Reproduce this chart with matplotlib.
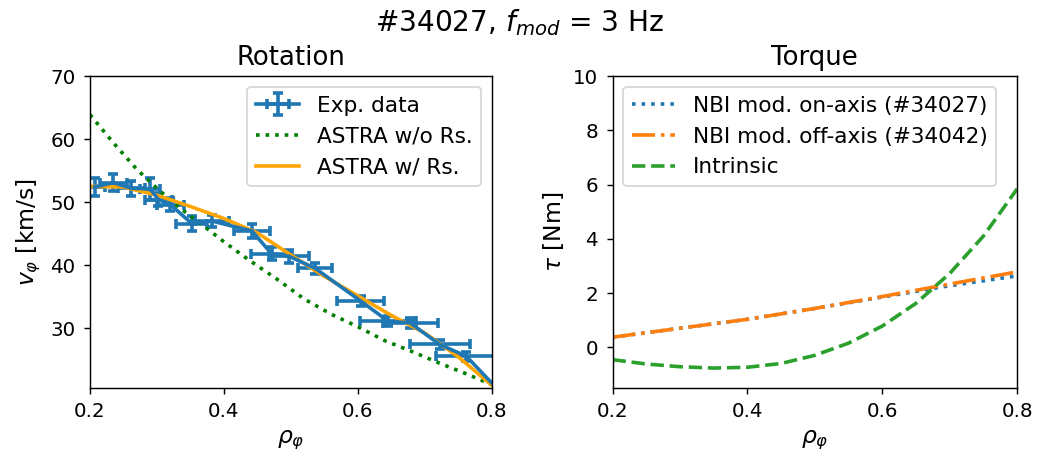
import matplotlib
matplotlib.use("Agg")
import matplotlib.pyplot as plt
import numpy as np

# 实验数据 (rho, v_phi, x误差, y误差)
exp_rho = [0.207, 0.235, 0.262, 0.290, 0.302, 0.320, 0.352, 0.382, 0.442,
           0.471, 0.497, 0.536, 0.604, 0.645, 0.678, 0.722, 0.762, 0.82]
exp_v = [52.4, 53.1, 52.2, 52.1, 50.4, 49.6, 46.6, 47.0, 45.4,
         41.8, 41.4, 39.5, 34.3, 31.1, 30.8, 27.4, 25.5, 19.0]
exp_xerr = [0.015, 0.02, 0.02, 0.015, 0.02, 0.02, 0.023, 0.025, 0.027,
            0.03, 0.03, 0.026, 0.035, 0.042, 0.041, 0.045, 0.045, 0.04]
exp_yerr = [1.5, 1.3, 1.2, 1.8, 1.0, 1.0, 1.2, 1.0, 1.1,
            1.0, 1.0, 0.9, 0.8, 0.8, 0.8, 0.7, 0.7, 0.7]

# ASTRA 模拟
astra_wo_rho = [0.2, 0.235, 0.27, 0.3, 0.33, 0.37, 0.40, 0.44, 0.48,
                0.52, 0.56, 0.60, 0.64, 0.68, 0.72, 0.76, 0.8]
astra_wo_v = [63.9, 59.4, 55.2, 52.2, 49.4, 46.2, 43.7, 40.6, 37.7,
              34.6, 32.2, 30.2, 28.0, 26.3, 24.5, 22.8, 21.0]
astra_w_rho = [0.2, 0.25, 0.3, 0.35, 0.4, 0.45, 0.5, 0.55, 0.6, 0.65, 0.7, 0.75, 0.8]
astra_w_v = [52.5, 52.4, 51.1, 49.3, 47.4, 45.1, 41.6, 38.2, 35.1, 32.0, 29.2, 25.4, 20.9]

# 力矩剖面
torque_rho = [0.2, 0.3, 0.4, 0.5, 0.6, 0.7, 0.8]
nbi_on = [0.37, 0.70, 1.03, 1.43, 1.85, 2.27, 2.63]
nbi_off = [0.37, 0.70, 1.03, 1.43, 1.87, 2.33, 2.78]
intr_rho = [0.2, 0.25, 0.3, 0.35, 0.4, 0.45, 0.5, 0.55, 0.6, 0.65, 0.7, 0.75, 0.8]
intr_tau = [-0.46, -0.62, -0.72, -0.77, -0.74, -0.60, -0.30, 0.15, 0.78, 1.62, 2.72, 4.1, 5.84]

plt.rcParams['font.size'] = 12
plt.rcParams['axes.labelsize'] = 13
plt.rcParams['xtick.labelsize'] = 11
plt.rcParams['ytick.labelsize'] = 11
plt.rcParams['xtick.major.pad'] = 4.5
plt.rcParams['ytick.major.pad'] = 4.5

fig = plt.figure(figsize=(8, 459 / 130), dpi=130)
ax1 = fig.add_axes([0.0865, 0.155, 0.3865, 0.679])
ax2 = fig.add_axes([0.589, 0.155, 0.389, 0.679])

fig.suptitle(r"#34027, $f_{mod}$ = 3 Hz", fontsize=15.5, y=0.985)

# 左图：旋转
eb = ax1.errorbar(exp_rho, exp_v, xerr=exp_xerr, yerr=exp_yerr, fmt='-', color='C0',
                  lw=2, elinewidth=2, capsize=3, capthick=2, label="Exp. data")
l1, = ax1.plot(astra_wo_rho, astra_wo_v, ':', color='g', lw=2, label="ASTRA w/o Rs.")
l2, = ax1.plot(astra_w_rho, astra_w_v, '-', color='orange', lw=2, label="ASTRA w/ Rs.")
ax1.set_xlim(0.2, 0.8)
ax1.set_ylim(20.5, 70)
ax1.set_xticks([0.2, 0.4, 0.6, 0.8])
ax1.set_yticks([30, 40, 50, 60, 70])
ax1.set_title("Rotation")
ax1.set_xlabel(r"$\rho_\varphi$")
ax1.set_ylabel(r"$v_\varphi$ [km/s]")
ax1.legend([eb, l1, l2], ["Exp. data", "ASTRA w/o Rs.", "ASTRA w/ Rs."], loc='upper right')

# 右图：力矩
ax2.plot(torque_rho, nbi_on, ':', color='C0', lw=2, label="NBI mod. on-axis (#34027)")
ax2.plot(torque_rho, nbi_off, '-.', color='C1', lw=2, label="NBI mod. off-axis (#34042)")
ax2.plot(intr_rho, intr_tau, '--', color='C2', lw=2, label="Intrinsic")
ax2.set_xlim(0.2, 0.8)
ax2.set_ylim(-1.5, 10)
ax2.set_xticks([0.2, 0.4, 0.6, 0.8])
ax2.set_yticks([0, 2, 4, 6, 8, 10])
ax2.set_title("Torque")
ax2.set_xlabel(r"$\rho_\varphi$")
ax2.set_ylabel(r"$\tau$ [Nm]")
ax2.legend(loc='upper left')

fig.savefig("out.png", dpi=130)
